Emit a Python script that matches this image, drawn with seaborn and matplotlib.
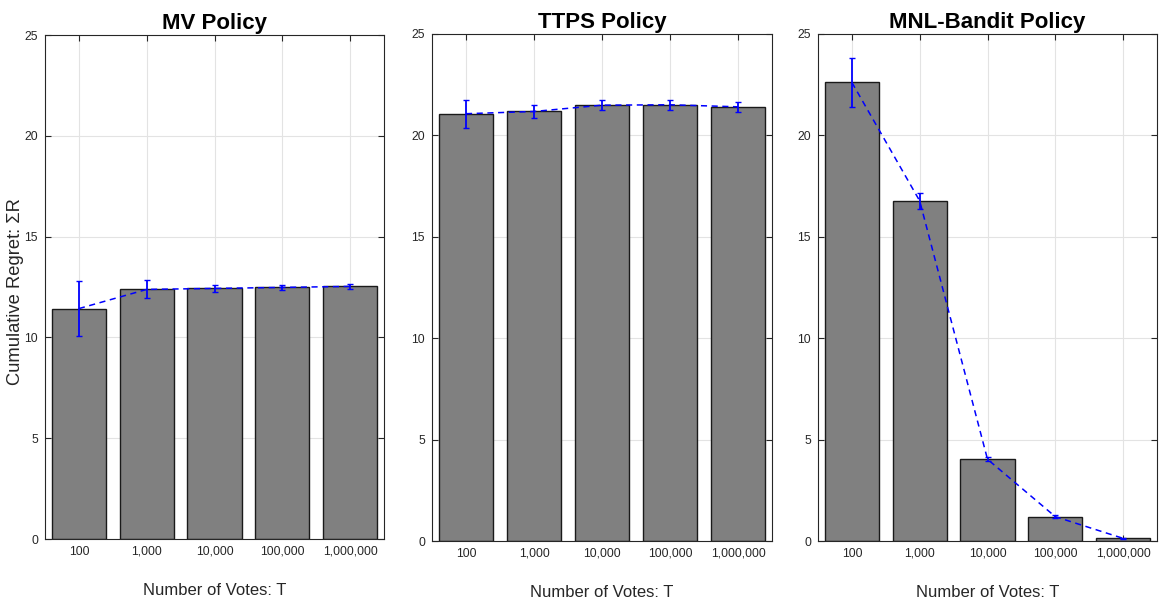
import matplotlib
matplotlib.use("Agg")
import matplotlib.pyplot as plt
import seaborn as sns
import pandas as pd

sns.set_theme(style="white")
plt.rcParams['font.family'] = ['Liberation Sans', 'DejaVu Sans']

votes = ["100", "1,000", "10,000", "100,000", "1,000,000"]

titles = ["MV Policy", "TTPS Policy", "MNL-Bandit Policy"]

mv_mean = [11.43, 12.38, 12.43, 12.48, 12.53]
mv_err = [1.38, 0.45, 0.19, 0.12, 0.12]

ttps_mean = [21.07, 21.18, 21.49, 21.51, 21.41]
ttps_err = [0.70, 0.30, 0.24, 0.26, 0.26]

mnl_mean = [22.61, 16.77, 4.03, 1.20, 0.13]
mnl_err = [1.22, 0.38, 0.10, 0.06, 0.03]

series = [(mv_mean, mv_err), (ttps_mean, ttps_err), (mnl_mean, mnl_err)]

W, H = 1159, 606
fig = plt.figure(figsize=(W / 100, H / 100), dpi=100)

# axes boxes in pixels: left, top, right, bottom
boxes = [(45, 35, 384, 539), (432, 34, 772, 541), (818, 34, 1157, 541)]

txt = '#262626'
for i, ((mean, err), title, (l, t, r, b)) in enumerate(zip(series, titles, boxes)):
    ax = fig.add_axes([l / W, (H - b) / H, (r - l) / W, (b - t) / H])
    df = pd.DataFrame({"votes": votes, "regret": mean})
    sns.barplot(data=df, x="votes", y="regret", color="#808080", saturation=1,
                edgecolor="#1a1a1a", linewidth=1.0, width=0.8, ax=ax, zorder=2)
    xs = list(range(len(votes)))
    ax.plot(xs, mean, linestyle=(0, (4, 3)), color="#0000ff", linewidth=1.1, zorder=3)
    ax.errorbar(xs, mean, yerr=err, fmt='none', ecolor="#0000ff", elinewidth=1.3,
                capsize=2, capthick=1.0, zorder=4)
    ax.set_xlim(-0.5, 4.5)
    ax.set_ylim(0, 25)
    ax.set_yticks([0, 5, 10, 15, 20, 25])
    ax.set_axisbelow(True)
    ax.grid(True, color='#e3e3e3', linewidth=0.8)
    ax.tick_params(direction='in', length=4, width=0.8, colors=txt, labelsize=8.8,
                   top=True, right=True, bottom=True, left=True, pad=5,
                   labelcolor=txt)
    for s in ax.spines.values():
        s.set_color('#262626')
        s.set_linewidth(0.8)
    ax.set_title(title, fontsize=16, fontweight='bold', color='black', pad=4)
    ax.set_xlabel("Number of Votes: T", fontsize=12, color=txt, labelpad=18)
    if i == 0:
        ax.set_ylabel("Cumulative Regret: \u03a3R", fontsize=13.2, color=txt)
        ax.yaxis.set_label_coords(-0.062, 0.49)
    else:
        ax.set_ylabel("")

fig.savefig("out.png", dpi=100)
